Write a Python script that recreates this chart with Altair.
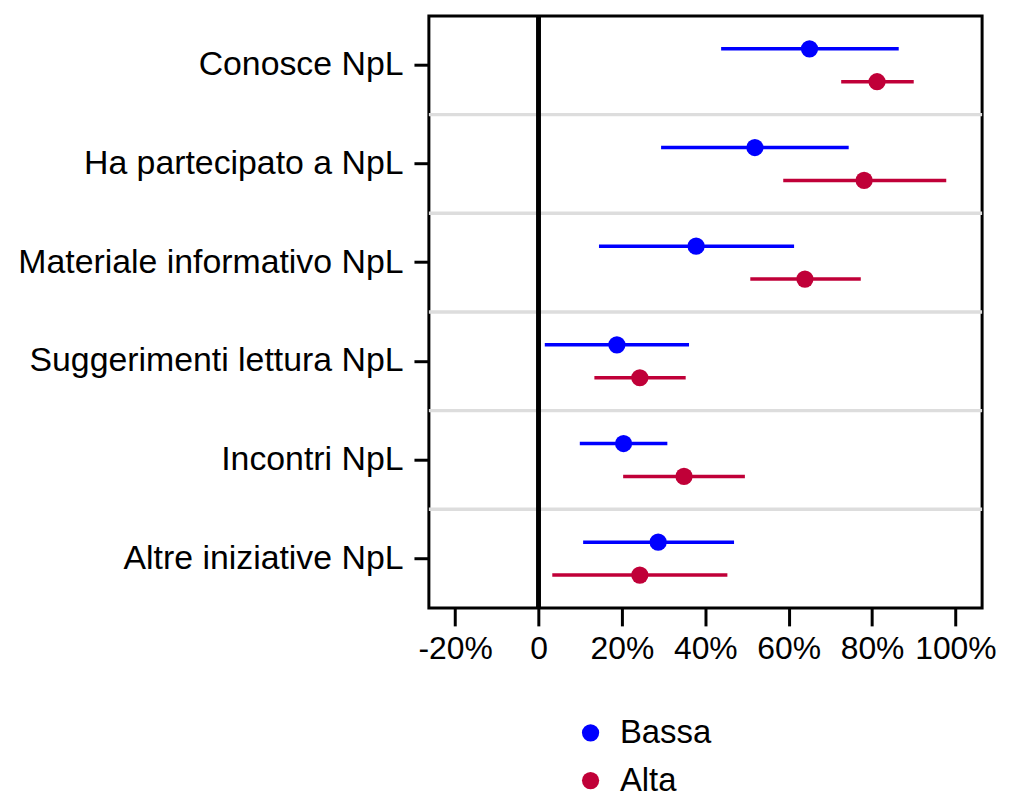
import altair as alt
import pandas as pd

items = [
    "Conosce NpL",
    "Ha partecipato a NpL",
    "Materiale informativo NpL",
    "Suggerimenti lettura NpL",
    "Incontri NpL",
    "Altre iniziative NpL",
]
groups = ["Bassa", "Alta"]
colors = ["#0000FF", "#C00038"]

bassa_mid = [65.0, 51.9, 37.8, 18.8, 20.4, 28.7]
bassa_lo = [43.8, 29.4, 14.5, 1.5, 9.9, 10.7]
bassa_hi = [86.4, 74.4, 61.3, 36.1, 30.9, 46.9]

alta_mid = [81.2, 78.1, 63.9, 24.3, 34.9, 24.3]
alta_lo = [72.6, 58.7, 50.8, 13.4, 20.3, 3.3]
alta_hi = [90.0, 97.8, 77.3, 35.3, 49.5, 45.3]

x_ticks = [-20, 0, 20, 40, 60, 80, 100]
x_domain = [-26.3, 106.4]

rows = []
for i, it in enumerate(items):
    rows.append(dict(item=it, group="Bassa", mid=bassa_mid[i], lo=bassa_lo[i], hi=bassa_hi[i]))
    rows.append(dict(item=it, group="Alta", mid=alta_mid[i], lo=alta_lo[i], hi=alta_hi[i]))
df = pd.DataFrame(rows)
sep = pd.DataFrame({"item": items[1:]})

FONT = "Liberation Sans"

yscale = alt.Scale(domain=items, paddingInner=0, paddingOuter=0)
xscale = alt.Scale(domain=x_domain, nice=False, zero=False)
yoff = alt.YOffset("group:N", sort=groups,
                   scale=alt.Scale(domain=groups, paddingInner=0, paddingOuter=0.5))
color = alt.Color("group:N", sort=groups,
                  scale=alt.Scale(domain=groups, range=colors),
                  legend=alt.Legend(title=None, orient="none", legendX=146, legendY=704,
                                    direction="vertical", symbolType="circle",
                                    symbolSize=300, labelFontSize=33, labelFont=FONT,
                                    labelColor="black", labelOffset=13, rowPadding=14,
                                    padding=0, symbolStrokeWidth=0))

yaxis = alt.Axis(title=None, domain=False, grid=False, ticks=True, tickSize=15,
                 tickWidth=3, tickColor="black", labelFontSize=34, labelFont=FONT,
                 labelColor="black", labelPadding=11, labelLimit=600)
xaxis = alt.Axis(title=None, domain=False, grid=False, ticks=True, tickSize=18,
                 tickWidth=3, tickColor="black", labelFontSize=32, labelFont=FONT,
                 labelColor="black", labelPadding=8, values=x_ticks, labelFlush=False,
                 labelOverlap=False,
                 labelExpr="datum.value == 0 ? '0' : datum.value + '%'")

separators = alt.Chart(sep).mark_rule(color="#DDDDDD", strokeWidth=3.5).encode(
    y=alt.Y("item:N", scale=yscale, axis=yaxis, bandPosition=0),
)

zero = alt.Chart(df).mark_rule(color="black", strokeWidth=3.5).encode(
    x=alt.datum(0, scale=xscale, axis=xaxis),
)

bars = alt.Chart(df).mark_rule(strokeWidth=3.5).encode(
    y=alt.Y("item:N", scale=yscale, axis=yaxis),
    yOffset=yoff,
    x=alt.X("lo:Q", scale=xscale, axis=xaxis),
    x2="hi:Q",
    color=color,
)

points = alt.Chart(df).mark_point(filled=True, shape="circle", size=300, opacity=1).encode(
    y=alt.Y("item:N", scale=yscale, axis=yaxis),
    yOffset=yoff,
    x=alt.X("mid:Q", scale=xscale, axis=xaxis),
    color=color,
)

chart = alt.layer(separators, zero, bars, points).properties(
    width=556, height=595,
    background="white",
    padding={"left": 9, "top": 4, "right": 5, "bottom": 0},
).configure_view(
    stroke="black", strokeWidth=3
)

chart.save("out.html", embed_options={"renderer": "svg", "actions": False})
